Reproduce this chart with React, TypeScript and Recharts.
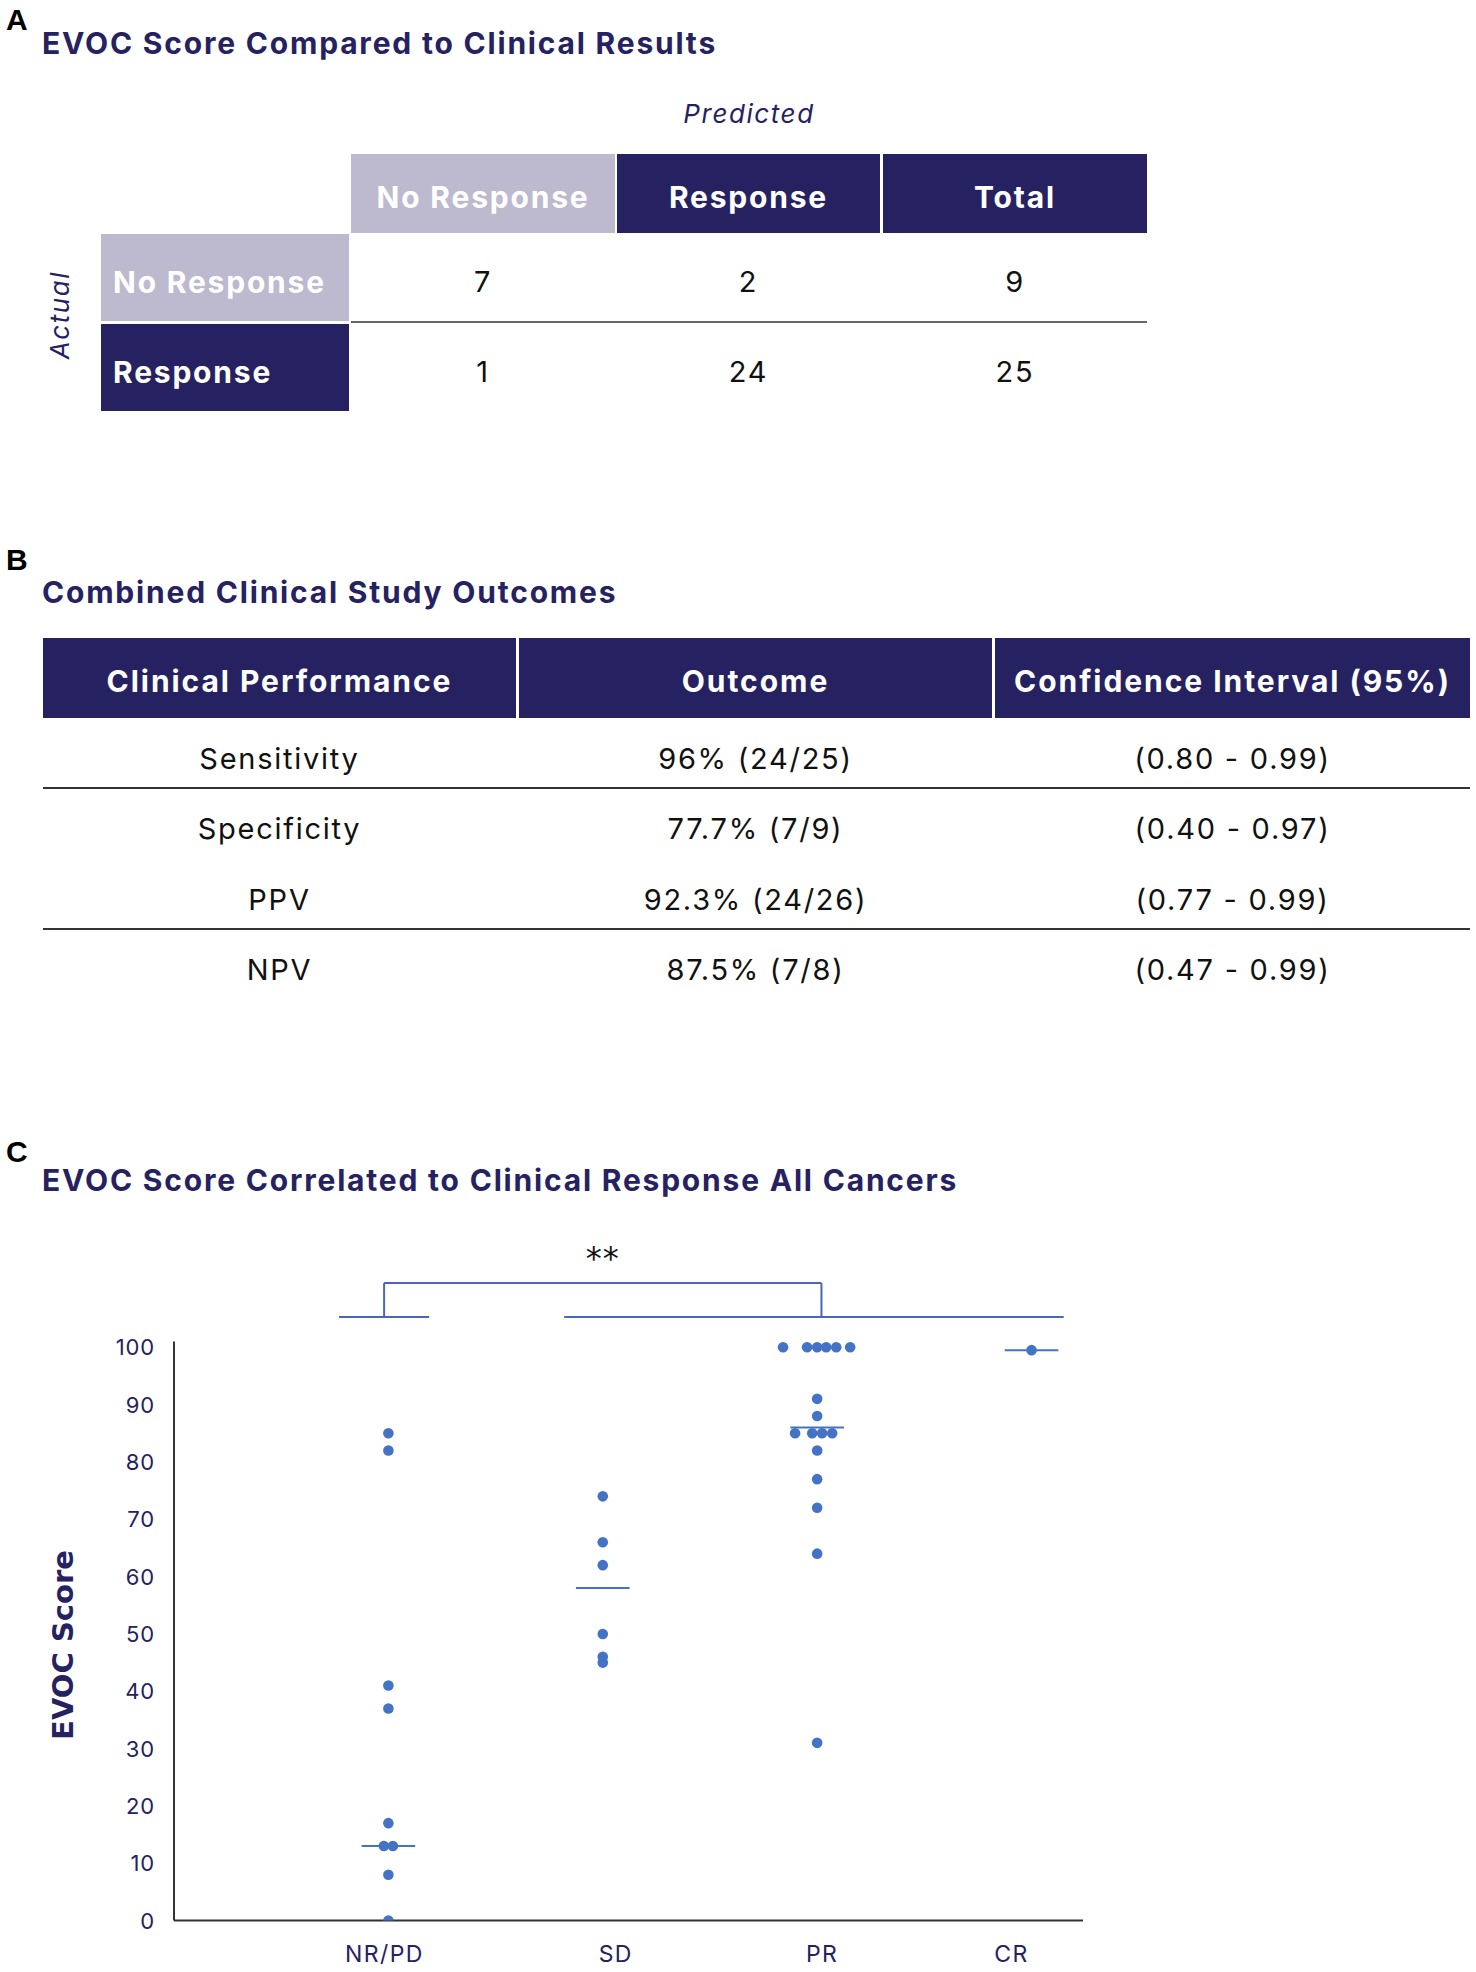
import React from 'react';
import { ScatterChart, Scatter, XAxis, YAxis, ReferenceLine, ReferenceDot, Label } from 'recharts';

// ---------- Data ----------
const predictedCols = ['No Response', 'Response', 'Total'];
const actualRows = ['No Response', 'Response'];
const matrixNoResponse = [7, 2, 9];
const matrixResponse = [1, 24, 25];

const perfHeaders = ['Clinical Performance', 'Outcome', 'Confidence Interval (95%)'];
const perfMetrics = ['Sensitivity', 'Specificity', 'PPV', 'NPV'];
const perfOutcomes = ['96% (24/25)', '77.7% (7/9)', '92.3% (24/26)', '87.5% (7/8)'];
const perfCIs = ['(0.80 - 0.99)', '(0.40 - 0.97)', '(0.77 - 0.99)', '(0.47 - 0.99)'];

const categories = ['NR/PD', 'SD', 'PR', 'CR'];
const nrpdScores = [85, 82, 41, 37, 17, 13, 13, 8, 0];
const nrpdJitter = [0, 0, 0, 0, 0, -0.021, 0.021, 0, 0];
const sdScores = [74, 66, 62, 50, 46, 45];
const sdJitter = [0, 0, 0, 0, 0, 0];
const prScores = [100, 100, 100, 100, 100, 100, 91, 88, 85, 85, 85, 85, 82, 77, 72, 64, 31];
const prJitter = [-0.159, -0.047, 0, 0.042, 0.089, 0.154, 0, 0, -0.103, -0.023, 0.023, 0.07, 0, 0, 0, 0, 0];
const crScores = [99.5];
const crJitter = [0];
const groupLines = [13, 58, 86, 99.5];
const yTicks = [0, 10, 20, 30, 40, 50, 60, 70, 80, 90, 100];

// significance bracket (data units)
const baseSpans = [[0.77, 1.19], [1.82, 4.15]];
const baseLevel = 105.3;
const bracketEnds = [0.98, 3.02];
const bracketTop = 111.2;
const sigLabel = '**';
const sigLevel = 115.6;

// ---------- Styles ----------
const NAVY = '#262262';
const LAV = '#bdb9cf';
const DOT = '#4472c4';
const BRACKET = '#4a67b5';
const FONT = 'Inter, "Noto Sans", sans-serif';
const LS = '0.06em';
const lineHalf = 0.125;
const xLabelShift = [-4, 13, 5, -20];

const groups = [
  { scores: nrpdScores, jitter: nrpdJitter },
  { scores: sdScores, jitter: sdJitter },
  { scores: prScores, jitter: prJitter },
  { scores: crScores, jitter: crJitter },
];
const points = groups.flatMap((g, gi) => g.scores.map((s, i) => ({ x: gi + 1 + g.jitter[i], y: s })));

const Box = ({ left, top, width, height, bg, children, style }: any) => (
  <div
    style={{
      position: 'absolute', left, top, width, height, background: bg,
      display: 'flex', alignItems: 'center', justifyContent: 'center',
      boxSizing: 'border-box', whiteSpace: 'nowrap', letterSpacing: LS, ...style,
    }}
  >
    {children}
  </div>
);

const PanelLetter = ({ top, children }: any) => (
  <div style={{ position: 'absolute', left: 6, top, fontFamily: '"Liberation Sans", Arial, sans-serif', fontWeight: 700, fontSize: 30, lineHeight: '30px', color: '#000' }}>
    {children}
  </div>
);

const Title = ({ top, children }: any) => (
  <div style={{ position: 'absolute', left: 42, top, height: 40, display: 'flex', alignItems: 'center', fontFamily: FONT, fontWeight: 700, fontSize: 30, letterSpacing: LS, color: NAVY, whiteSpace: 'nowrap' }}>
    {children}
  </div>
);

const XTick = (props: any) => {
  const { x, y, payload, index } = props;
  const i = Math.round(payload.value) - 1;
  return (
    <text x={x + (xLabelShift[index] ?? 0)} y={y} dy={25} textAnchor="middle" dominantBaseline="central" fill={NAVY} fontSize={23} fontFamily={FONT} letterSpacing="0.06em">
      {categories[i]}
    </text>
  );
};

const YTick = (props: any) => {
  const { x, y, payload } = props;
  return (
    <text x={x} y={y} textAnchor="end" dominantBaseline="central" fill={NAVY} fontSize={22} fontFamily={FONT} letterSpacing="0.04em">
      {payload.value}
    </text>
  );
};

const Dot = (p: any) => <circle cx={p.cx} cy={p.cy} r={5.3} fill={DOT} />;

export default function App() {
  const colA = [
    { left: 351, width: 264, bg: LAV },
    { left: 617, width: 263, bg: NAVY },
    { left: 883, width: 264, bg: NAVY },
  ];
  const colB = [
    { left: 43, width: 473 },
    { left: 519, width: 473 },
    { left: 995, width: 475 },
  ];
  const rowAY = [{ top: 234, height: 87, bg: LAV }, { top: 324, height: 87, bg: NAVY }];
  const rowBCenters = [757, 827, 898, 968];
  const matrix = [matrixNoResponse, matrixResponse];

  return (
    <div style={{ position: 'absolute', left: 0, top: 0, width: 1476, height: 1972, background: '#fff', fontFamily: FONT, overflow: 'hidden' }}>
      {/* Panel A */}
      <PanelLetter top={5}>A</PanelLetter>
      <Title top={23}>EVOC Score Compared to Clinical Results</Title>
      <Box left={629} top={98} width={240} height={30} style={{ fontStyle: 'italic', fontSize: 26, color: NAVY }}>Predicted</Box>
      {predictedCols.map((c, i) => (
        <Box key={c} left={colA[i].left} top={154} width={colA[i].width} height={79} bg={colA[i].bg} style={{ color: '#fff', fontWeight: 700, fontSize: 30, paddingTop: 6 }}>
          {c}
        </Box>
      ))}
      {actualRows.map((r, ri) => (
        <React.Fragment key={r}>
          <Box left={101} top={rowAY[ri].top} width={248} height={rowAY[ri].height} bg={rowAY[ri].bg} style={{ color: '#fff', fontWeight: 700, fontSize: 30, justifyContent: 'flex-start', paddingLeft: 12, paddingTop: 8 }}>
            {r}
          </Box>
          {matrix[ri].map((v, ci) => (
            <Box key={ci} left={colA[ci].left} top={rowAY[ri].top} width={colA[ci].width} height={rowAY[ri].height} style={{ color: '#111', fontSize: 29, paddingTop: 8 }}>
              {v}
            </Box>
          ))}
        </React.Fragment>
      ))}
      <div style={{ position: 'absolute', left: 351, top: 321, width: 796, height: 2, background: '#666' }} />
      <Box left={-1} top={300} width={120} height={30} style={{ transform: 'rotate(-90deg)', fontStyle: 'italic', fontSize: 26, color: NAVY }}>Actual</Box>

      {/* Panel B */}
      <PanelLetter top={545}>B</PanelLetter>
      <Title top={572}>Combined Clinical Study Outcomes</Title>
      {perfHeaders.map((h, i) => (
        <Box key={h} left={colB[i].left} top={638} width={colB[i].width} height={80} bg={NAVY} style={{ color: '#fff', fontWeight: 700, fontSize: 30, paddingTop: 6, letterSpacing: '0.065em' }}>
          {h}
        </Box>
      ))}
      {perfMetrics.map((m, ri) => (
        <React.Fragment key={m}>
          {[m, perfOutcomes[ri], perfCIs[ri]].map((t, ci) => (
            <Box key={ci} left={colB[ci].left} top={rowBCenters[ri] - 25} width={colB[ci].width} height={50} style={{ color: '#111', fontSize: 29, paddingTop: 2 }}>
              {t}
            </Box>
          ))}
        </React.Fragment>
      ))}
      <div style={{ position: 'absolute', left: 43, top: 787, width: 1427, height: 2, background: '#333' }} />
      <div style={{ position: 'absolute', left: 43, top: 928, width: 1427, height: 2, background: '#333' }} />

      {/* Panel C */}
      <PanelLetter top={1137}>C</PanelLetter>
      <Title top={1160}>EVOC Score Correlated to Clinical Response All Cancers</Title>
      <div style={{ position: 'absolute', left: 0, top: 1200 }}>
        <ScatterChart width={1476} height={772} margin={{ top: 32.6, right: 393, bottom: 11.4, left: 114 }}>
          <XAxis
            type="number"
            dataKey="x"
            domain={[0, 4.24]}
            ticks={[1, 2, 3, 4]}
            tick={<XTick />}
            tickLine={false}
            axisLine={{ stroke: '#333', strokeWidth: 2 }}
            height={40}
            allowDataOverflow
          />
          <YAxis
            type="number"
            dataKey="y"
            domain={[0, 120]}
            ticks={yTicks}
            axisLine={false}
            tickLine={false}
            tickMargin={13}
            width={60}
            tick={<YTick />}
            allowDataOverflow
          >
            <Label
              content={() => (
                <text x={63} y={445} transform="rotate(-90 63 445)" textAnchor="middle" dominantBaseline="central" fill={NAVY} fontSize={29} fontWeight={700} fontFamily='"DejaVu Sans", sans-serif'>
                  EVOC Score
                </text>
              )}
            />
          </YAxis>
          <ReferenceLine segment={[{ x: 0, y: 0 }, { x: 0, y: 101 }]} stroke="#333" strokeWidth={2} ifOverflow="visible" />
          {groupLines.map((v, i) => (
            <ReferenceLine key={'m' + i} segment={[{ x: i + 1 - lineHalf, y: v }, { x: i + 1 + lineHalf, y: v }]} stroke={DOT} strokeWidth={2} ifOverflow="visible" />
          ))}
          {baseSpans.map((s, i) => (
            <ReferenceLine key={'b' + i} segment={[{ x: s[0], y: baseLevel }, { x: s[1], y: baseLevel }]} stroke={BRACKET} strokeWidth={2} ifOverflow="visible" />
          ))}
          <ReferenceLine segment={[{ x: bracketEnds[0], y: baseLevel }, { x: bracketEnds[0], y: bracketTop }]} stroke={BRACKET} strokeWidth={2} ifOverflow="visible" />
          <ReferenceLine segment={[{ x: bracketEnds[0], y: bracketTop }, { x: bracketEnds[1], y: bracketTop }]} stroke={BRACKET} strokeWidth={2} ifOverflow="visible" />
          <ReferenceLine segment={[{ x: bracketEnds[1], y: bracketTop }, { x: bracketEnds[1], y: baseLevel }]} stroke={BRACKET} strokeWidth={2} ifOverflow="visible" />
          <ReferenceDot
            x={(bracketEnds[0] + bracketEnds[1]) / 2}
            y={sigLevel}
            r={0}
            ifOverflow="visible"
            shape={(p: any) => (
              <text x={p.cx} y={p.cy} textAnchor="middle" dominantBaseline="central" fontSize={32} fontFamily='"DejaVu Sans", sans-serif' fill="#111" letterSpacing="1">
                {sigLabel}
              </text>
            )}
          />
          <Scatter data={points} shape={<Dot />} isAnimationActive={false} />
        </ScatterChart>
      </div>
    </div>
  );
}
